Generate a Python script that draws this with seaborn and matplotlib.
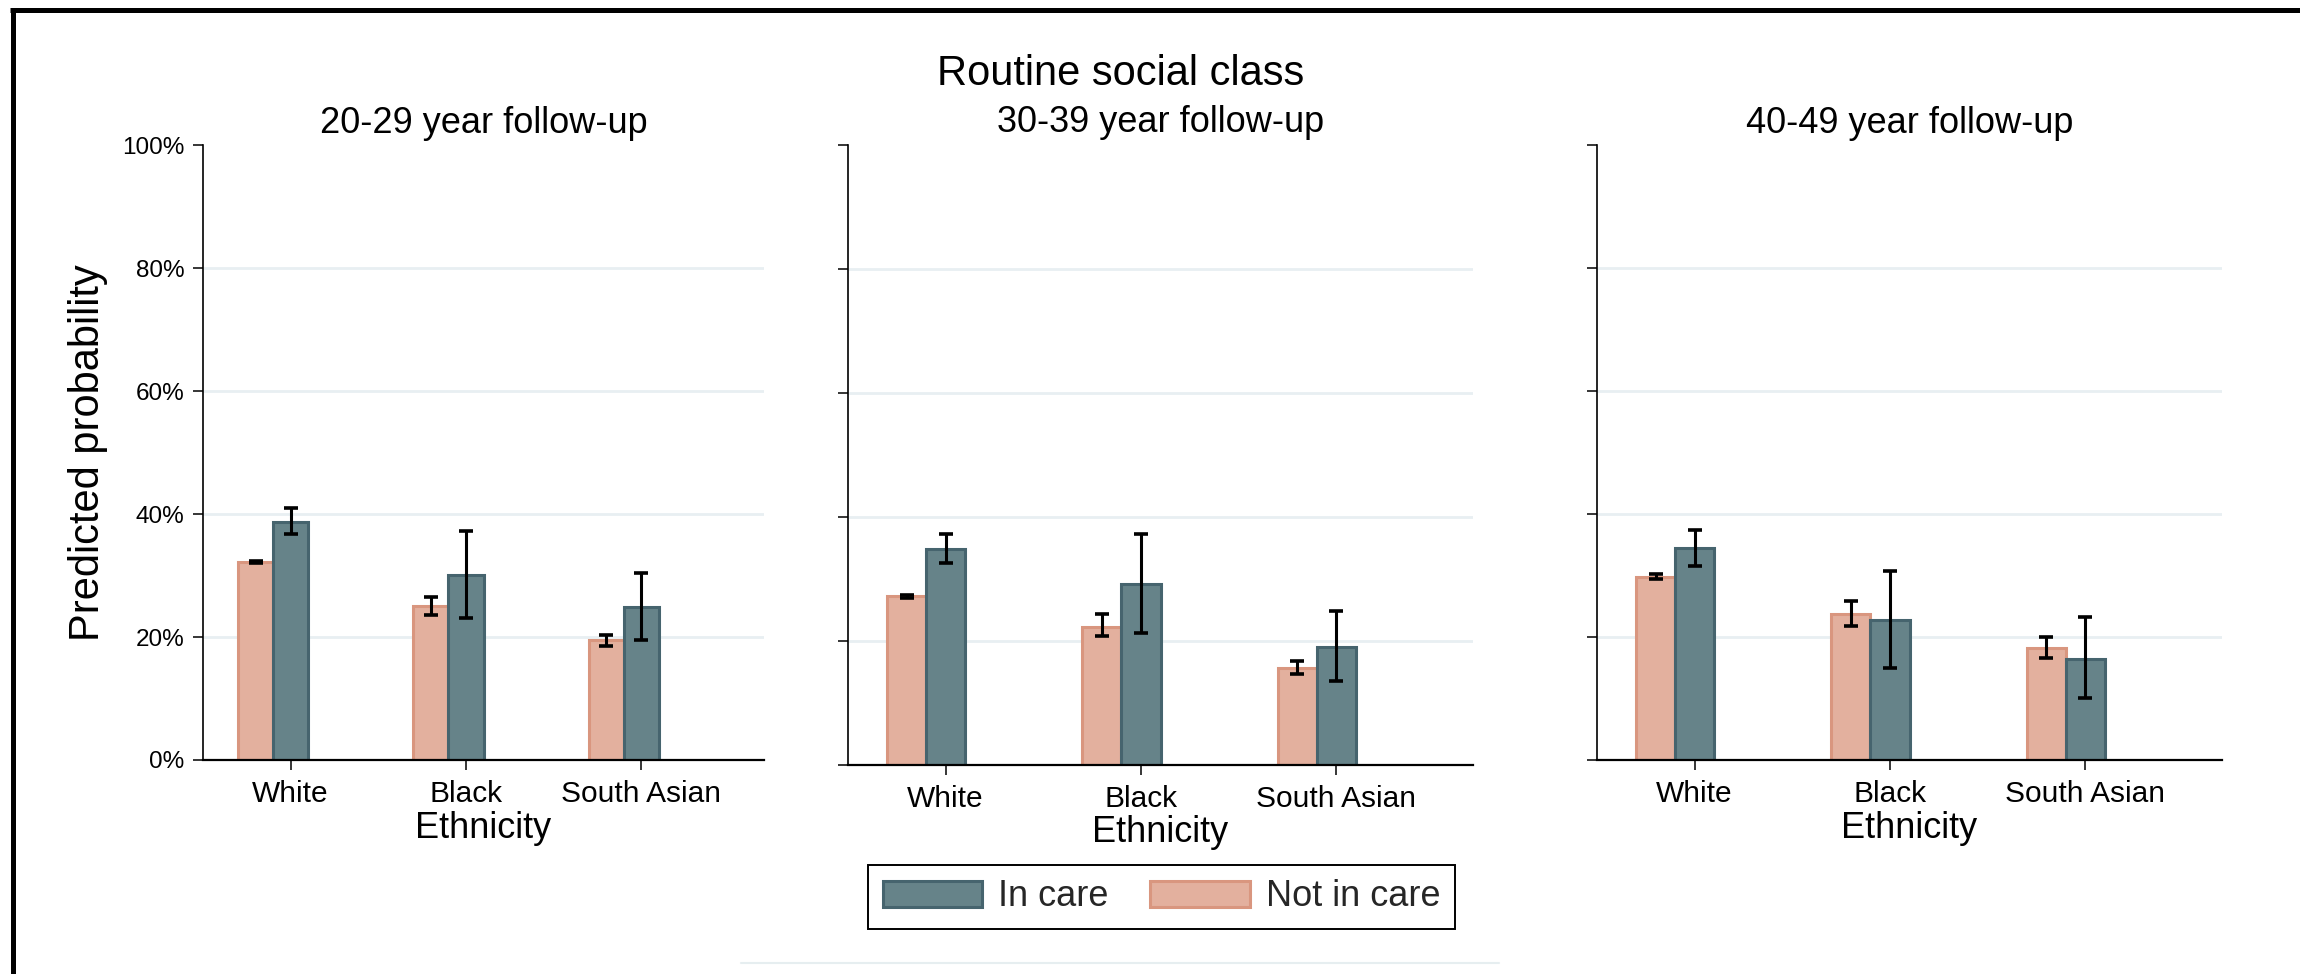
import matplotlib
matplotlib.use("Agg")
import matplotlib.pyplot as plt
from matplotlib.lines import Line2D
from matplotlib.patches import Patch
from matplotlib.ticker import FuncFormatter
import pandas as pd
import seaborn as sns

# ---- data -------------------------------------------------------------
ethnicities = ["White", "Black", "South Asian"]
follow_ups = ["20-29 year follow-up", "30-39 year follow-up", "40-49 year follow-up"]
groups = ["Not in care", "In care"]

# predicted probability (%) and 95% CI, one row per follow-up period
not_in_care = [[32.2, 25.0, 19.5], [27.2, 22.3, 15.6], [29.8, 23.7, 18.2]]
not_in_care_lo = [[32.0, 23.6, 18.5], [26.9, 20.8, 14.7], [29.5, 21.8, 16.6]]
not_in_care_hi = [[32.4, 26.5, 20.4], [27.5, 24.3, 16.8], [30.2, 25.8, 20.0]]

in_care = [[38.7, 30.1, 24.9], [34.9, 29.2, 19.1], [34.4, 22.7, 16.5]]
in_care_lo = [[36.8, 23.1, 19.5], [32.6, 21.3, 13.5], [31.6, 14.9, 10.1]]
in_care_hi = [[40.9, 37.2, 30.4], [37.3, 37.3, 24.9], [37.4, 30.8, 23.2]]

y_ticks = [0, 20, 40, 60, 80, 100]
grid_levels = [20, 40, 60, 80]

rows = []
for k, fu in enumerate(follow_ups):
    for j, eth in enumerate(ethnicities):
        rows.append(dict(panel=fu, ethnicity=eth, group="Not in care",
                         prob=not_in_care[k][j], lo=not_in_care_lo[k][j], hi=not_in_care_hi[k][j]))
        rows.append(dict(panel=fu, ethnicity=eth, group="In care",
                         prob=in_care[k][j], lo=in_care_lo[k][j], hi=in_care_hi[k][j]))
df = pd.DataFrame(rows)

# ---- style ------------------------------------------------------------
sns.set_theme(style="white")
plt.rcParams["font.family"] = ["Liberation Sans", "DejaVu Sans"]

fills = {"Not in care": "#E3B09E", "In care": "#668389"}
edges = {"Not in care": "#D9967F", "In care": "#46646E"}
grid_color = "#E8EFF2"

W, H = 2300, 974
fig = plt.figure(figsize=(W / 100, H / 100), dpi=100)

# plot-area boxes in pixels: left, right, top, bottom
boxes = [(203, 764, 145, 760), (848, 1473, 145, 765), (1597, 2222, 145, 760)]

for k, (x0, x1, yt, yb) in enumerate(boxes):
    ax = fig.add_axes([x0 / W, 1 - yb / H, (x1 - x0) / W, (yb - yt) / H])
    sub = df[df.panel == follow_ups[k]]
    sns.barplot(data=sub, x="ethnicity", y="prob", hue="group",
                order=ethnicities, hue_order=groups, palette=fills,
                width=0.4, errorbar=None, saturation=1, linewidth=2.2,
                legend=False, ax=ax, zorder=2)

    for container, grp in zip(ax.containers, groups):
        for bar in container:
            bar.set_edgecolor(edges[grp])
            xc = bar.get_x() + bar.get_width() / 2
            eth = ethnicities[int(round(xc))]
            r = sub[(sub.ethnicity == eth) & (sub.group == grp)].iloc[0]
            ax.errorbar(xc, r.prob, yerr=[[r.prob - r.lo], [r.hi - r.prob]],
                        fmt="none", ecolor="black", elinewidth=2.2,
                        capsize=4.7, capthick=2.6, zorder=3)

    for g in grid_levels:
        ax.axhline(g, color=grid_color, lw=2, zorder=0)

    ax.set_xlim(-0.4, 2.8)
    ax.set_xticks([i + 0.1 for i in range(len(ethnicities))], ethnicities)
    ax.set_ylim(0, 100)
    ax.set_yticks(y_ticks)
    ax.yaxis.set_major_formatter(FuncFormatter(lambda v, p: f"{int(v)}%"))

    sns.despine(ax=ax)
    ax.spines["left"].set_linewidth(1.2)
    ax.spines["bottom"].set_linewidth(1.6)
    ax.spines["left"].set_color("black")
    ax.spines["bottom"].set_color("black")

    ax.tick_params(axis="y", left=True, length=7.2, width=1.1, color="black",
                   labelsize=17.5, pad=6, labelcolor="black")
    ax.tick_params(axis="x", bottom=True, length=7.2, width=1.1, color="black",
                   labelsize=21.5, pad=7, labelcolor="black")

    ax.set_title(follow_ups[k], fontsize=26, pad=9, color="black")
    ax.set_xlabel("Ethnicity", fontsize=26, labelpad=2, color="black")
    if k == 0:
        ax.set_ylabel("Predicted probability", fontsize=30, color="black")
        ax.yaxis.set_label_coords(-0.170, 0.5)
    else:
        ax.set_ylabel("")
        ax.tick_params(axis="y", labelleft=False)

fig.text(1121 / W, 1 - 85 / H, "Routine social class", fontsize=30,
         ha="center", va="baseline", color="black")

handles = [Patch(facecolor=fills["In care"], edgecolor=edges["In care"], lw=2.2, label="In care"),
           Patch(facecolor=fills["Not in care"], edgecolor=edges["Not in care"], lw=2.2, label="Not in care")]
leg = fig.legend(handles=handles, loc="center", bbox_to_anchor=(1161.5 / W, 1 - 897 / H),
                 ncol=2, fontsize=26, frameon=True, fancybox=False, framealpha=1,
                 edgecolor="black", handlelength=2.75, handleheight=0.72,
                 handletextpad=0.45, columnspacing=1.15, borderpad=0.4)
leg.get_frame().set_linewidth(1.4)

# outer frame (left and top edges) and faint rule under the legend
fig.add_artist(Line2D([12.5 / W, 12.5 / W], [0, 1 - 9.5 / H], transform=fig.transFigure,
                      color="black", lw=3.6, solid_capstyle="butt"))
fig.add_artist(Line2D([10 / W, 1], [1 - 9.5 / H, 1 - 9.5 / H], transform=fig.transFigure,
                      color="black", lw=3.6, solid_capstyle="butt"))
fig.add_artist(Line2D([741 / W, 1499 / W], [1 - 963 / H, 1 - 963 / H], transform=fig.transFigure,
                      color="#E6EEF0", lw=1.5))

fig.savefig("out.png", dpi=100, facecolor="white")
